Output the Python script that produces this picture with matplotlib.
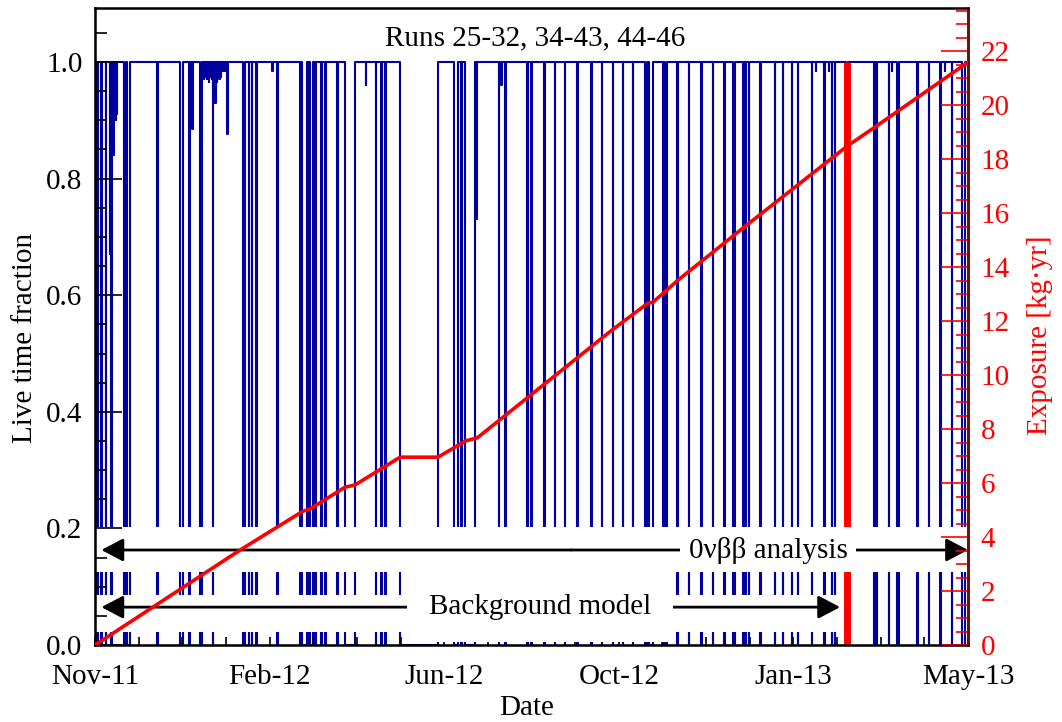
import numpy as np
import matplotlib.pyplot as plt
from matplotlib.patches import Rectangle
from matplotlib.ticker import MultipleLocator, FormatStrFormatter

plt.rcParams['font.family'] = ['Liberation Serif', 'DejaVu Serif']
plt.rcParams['font.size'] = 21

# time axis: days since 9 Nov 2011
date_ticks = [0, 110, 220, 330, 440, 550]
date_labels = ["Nov-11", "Feb-12", "Jun-12", "Oct-12", "Jan-13", "May-13"]

# periods with zero live time (start day, end day)
outages = [
    (1.3, 1.6), (3.8, 4.2), (6.9, 7.2), (10.2, 10.6), (18.3, 19.2), (20.2, 22.0),
    (39.1, 39.4), (53.7, 55.2), (59.4, 59.7), (66.2, 67.4), (74.1, 74.5),
    (93.2, 94.3), (96.8, 97.1), (98.9, 99.2), (101.4, 102.2), (114.8, 115.1),
    (129.2, 129.9), (130.4, 133.8), (134.3, 135.0), (135.6, 137.2), (138.6, 138.9),
    (142.4, 142.7), (144.9, 145.2), (152.5, 152.8), (157.5, 163.8), (177.0, 177.3),
    (180.2, 180.5), (182.7, 183.0), (192.2, 216.1), (226.2, 228.7), (230.6, 230.9),
    (233.1, 239.4), (254.5, 254.8), (258.3, 258.6), (272.2, 272.5), (274.7, 275.0),
    (282.9, 283.2), (289.8, 290.1), (296.1, 296.4), (303.7, 304.0), (312.5, 312.8),
    (319.4, 319.7), (326.3, 326.6), (332.6, 332.9), (338.9, 339.2), (346.5, 347.8),
    (349.0, 351.5), (357.8, 358.4), (359.4, 360.4), (366.7, 367.0), (374.2, 374.5),
    (381.8, 382.1), (389.3, 389.6), (396.3, 396.6), (401.9, 403.2), (408.2, 408.8),
    (409.5, 410.1), (412.0, 412.3), (419.0, 419.3), (428.4, 428.7), (433.4, 433.7),
    (439.1, 439.4), (442.9, 443.2), (451.7, 452.0), (459.3, 459.6), (464.3, 464.6),
    (465.9, 466.2), (473.0, 474.6), (490.8, 491.6), (491.9, 492.7), (500.2, 500.5),
    (505.3, 506.5), (517.9, 518.2), (525.4, 525.7), (532.4, 532.7), (539.9, 540.2),
    (546.2, 548.1),
]

# short runs with reduced live time (day, fraction)
partial_runs = [
    (9.4, 0.67), (11.6, 0.84), (12.4, 0.90), (13.2, 0.90), (13.8, 0.91), (61.1, 0.885),
    (67.8, 0.975), (68.6, 0.97), (69.5, 0.975), (70.3, 0.97), (71.0, 0.975), (71.8, 0.965),
    (72.6, 0.975), (73.4, 0.97), (75.2, 0.95), (75.8, 0.93), (76.6, 0.965), (77.4, 0.975),
    (78.2, 0.97), (79.1, 0.975), (80.4, 0.985), (81.6, 0.985), (83.2, 0.876),
    (111.7, 0.985), (170.7, 0.96), (240.2, 0.73), (255.8, 0.96), (332.9, 0.99),
    (454.2, 0.985), (462.4, 0.985), (502.1, 0.985), (535.5, 0.985),
]

# accumulated exposure in kg*yr
exposure_day = [0, 91.4, 131.0, 135.5, 157.5, 163.8, 192.2, 216.1, 226.8, 233.1,
                240.7, 325.7, 348.4, 351.5, 367.3, 408.9, 459.3, 473.8, 491.4, 550]
exposure_val = [0, 3.52, 4.96, 5.04, 5.85, 5.93, 6.96, 6.96, 7.33, 7.56,
                7.67, 11.67, 12.67, 12.70, 13.52, 15.48, 17.81, 18.48, 19.19, 21.59]

unblinding_day = 473.8

# step series of the live time fraction
steps = [(0.0, 0.0), (0.4, 1.0)]
for a, b in outages:
    steps += [(a, 0.0), (b, 1.0)]
for d, v in partial_runs:
    steps += [(d, v), (d + 0.3, 1.0)]
steps.sort()
steps.append((550.0, 1.0))
t_live = np.array([s[0] for s in steps])
f_live = np.array([s[1] for s in steps])

fig = plt.figure(figsize=(10.62, 7.22), dpi=100)
ax = fig.add_axes([0.0895, 0.1066, 0.822, 0.8823])

ax.plot(t_live, f_live, drawstyle='steps-post', color='#0000a0', lw=1.5, zorder=1.0)
ax.plot([unblinding_day, unblinding_day], [0, 1.0], color='red', lw=5,
        solid_capstyle='butt', zorder=1.1)

# white bands behind the period arrows
ax.add_patch(Rectangle((0, 0.125), 550, 0.078, facecolor='white', lw=0, zorder=1.3))
ax.add_patch(Rectangle((0, 0.022), 469, 0.064, facecolor='white', lw=0, zorder=1.3))

arrow = dict(arrowstyle='-|>,head_length=0.95,head_width=0.5', mutation_scale=14,
             color='black', lw=2, shrinkA=0, shrinkB=0)
ax.annotate('', xy=(4, 0.163), xytext=(300, 0.163), arrowprops=arrow, zorder=3)
ax.annotate('', xy=(550, 0.163), xytext=(300, 0.163), arrowprops=arrow, zorder=3)
ax.annotate('', xy=(4, 0.065), xytext=(280, 0.065), arrowprops=arrow, zorder=3)
ax.annotate('', xy=(469.4, 0.065), xytext=(280, 0.065), arrowprops=arrow, zorder=3)
ax.text(424, 0.163, "0\u03bd\u03b2\u03b2 analysis", ha='center', va='center', zorder=4,
        bbox=dict(facecolor='white', edgecolor='none', pad=6))
ax.text(280.4, 0.065, "Background model", ha='center', va='center', zorder=4,
        bbox=dict(facecolor='white', edgecolor='none', pad=16))
ax.text(277, 1.041, "Runs 25-32, 34-43, 44-46", ha='center', va='center')

ax.set_xlim(0, 550)
ax.set_ylim(0, 1.0926)
ax.set_xticks(date_ticks)
ax.set_xticklabels(date_labels)
ax.xaxis.set_minor_locator(MultipleLocator(27.5))
ax.yaxis.set_major_locator(MultipleLocator(0.2))
ax.yaxis.set_minor_locator(MultipleLocator(0.05))
ax.yaxis.set_major_formatter(FormatStrFormatter('%.1f'))
ax.tick_params(axis='y', which='major', direction='in', length=19.5, width=1.2, pad=9)
ax.tick_params(axis='y', which='minor', direction='in', length=8.6, width=1.2)
ax.tick_params(axis='x', which='both', direction='in', length=6, width=1.2, pad=14)
ax.tick_params(top=False, right=False)
for sp in ax.spines.values():
    sp.set_linewidth(1.8)

ax2 = ax.twinx()
ax2.plot(exposure_day, exposure_val, color='red', lw=2.6, zorder=5)
ax2.set_ylim(0, 23.6)
ax2.yaxis.set_major_locator(MultipleLocator(2))
ax2.yaxis.set_minor_locator(MultipleLocator(0.5))
ax2.tick_params(axis='y', which='major', direction='in', length=19.5, width=1.2,
                colors='red', pad=9)
ax2.tick_params(axis='y', which='minor', direction='in', length=8.6, width=1.2, colors='red')
ax2.spines['right'].set_linewidth(1.8)
ax2.spines['right'].set_color('#6a1010')

fig.text(25 / 1062, 1 - 338 / 722, "Live time fraction", rotation=90, ha='center', va='center')
fig.text(1040 / 1062, 1 - 335 / 722, "Exposure [kg\u00b7yr]", rotation=90, ha='center',
         va='center', color='red')
fig.text(527 / 1062, 1 - 708 / 722, "Date", ha='center', va='center')

fig.savefig('out.png', dpi=100)
